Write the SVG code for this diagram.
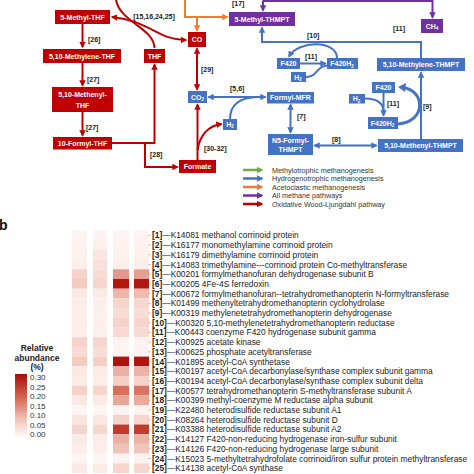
<svg xmlns="http://www.w3.org/2000/svg" width="474" height="474" viewBox="0 0 474 474">
<style>
.bx{font-family:"Liberation Sans",Arial,sans-serif;font-weight:bold;font-size:7px;fill:#fff;text-anchor:middle}
.st{font-family:"Liberation Sans",Arial,sans-serif;font-weight:bold;font-size:7px;fill:#1a1a1a}
.lg{font-family:"Liberation Sans",Arial,sans-serif;font-size:7.2px;fill:#333}
.hl{font-family:"Liberation Sans",Arial,sans-serif;font-size:8.4px;fill:#222}
.cb{font-family:"Liberation Sans",Arial,sans-serif;font-size:8px;fill:#333}
.red{fill:#c00000}.blue{fill:#4472c4}.pur{fill:#7030a0}
.lr{fill:none;stroke:#c00000;stroke-width:2}
.lb{fill:none;stroke:#4472c4;stroke-width:2}
.lo{fill:none;stroke:#ed7d31;stroke-width:2}
.lp{fill:none;stroke:#7030a0;stroke-width:2}
.lgr{fill:none;stroke:#70ad47;stroke-width:2.5}
</style>
<defs>
<marker id="mr" viewBox="0 0 10 10" refX="8" refY="5" markerWidth="6.5" markerHeight="6.5" markerUnits="userSpaceOnUse" orient="auto-start-reverse"><path d="M0,0 L10,5 L0,10 z" fill="#c00000"/></marker>
<marker id="mb" viewBox="0 0 10 10" refX="8" refY="5" markerWidth="6.5" markerHeight="6.5" markerUnits="userSpaceOnUse" orient="auto-start-reverse"><path d="M0,0 L10,5 L0,10 z" fill="#4472c4"/></marker>
<marker id="mo" viewBox="0 0 10 10" refX="8" refY="5" markerWidth="6.5" markerHeight="6.5" markerUnits="userSpaceOnUse" orient="auto-start-reverse"><path d="M0,0 L10,5 L0,10 z" fill="#ed7d31"/></marker>
<marker id="mp" viewBox="0 0 10 10" refX="8" refY="5" markerWidth="6.5" markerHeight="6.5" markerUnits="userSpaceOnUse" orient="auto-start-reverse"><path d="M0,0 L10,5 L0,10 z" fill="#7030a0"/></marker>
<marker id="mg" viewBox="0 0 10 10" refX="8" refY="5" markerWidth="6.5" markerHeight="6.5" markerUnits="userSpaceOnUse" orient="auto-start-reverse"><path d="M0,0 L10,5 L0,10 z" fill="#70ad47"/></marker>
<linearGradient id="cbar" x1="0" y1="0" x2="0" y2="1">
<stop offset="0" stop-color="#a50f0b"/><stop offset="0.35" stop-color="#d4604c"/><stop offset="0.7" stop-color="#f2c2b6"/><stop offset="1" stop-color="#ffffff"/>
</linearGradient>
</defs>

<!-- connectors -->
<g id="connectors">
<path class="lr" d="M116,0 C120,22 154,28 154.5,48"/>
<path class="lr" d="M112,17 C150,21 158,40 186,40" marker-start="url(#mr)" marker-end="url(#mr)"/>
<path class="lr" d="M82.5,24 V47" marker-end="url(#mr)"/>
<path class="lr" d="M82.5,63 V85.5" marker-end="url(#mr)"/>
<path class="lr" d="M82.5,112 V135.5" marker-end="url(#mr)"/>
<path class="lr" d="M112,143 H154.5 V64.5" marker-end="url(#mr)"/>
<path class="lr" d="M145,143 V167 H177.5" marker-end="url(#mr)"/>
<path class="lr" d="M197,48.5 V89.5" marker-start="url(#mr)" marker-end="url(#mr)"/>
<path class="lr" d="M197.5,160 V104.5" marker-end="url(#mr)"/>
<path class="lr" d="M197.5,150 C200,135 208,126 221.5,124" marker-end="url(#mr)"/>
<path class="lo" d="M185,0 V17 H227.5" marker-end="url(#mo)"/>
<path class="lo" d="M197,17 V30.5" marker-end="url(#mo)"/>
<path class="lp" d="M263,0.5 V10.5" marker-end="url(#mp)"/>
<path class="lp" d="M263,1 H432.5 V17.5" marker-end="url(#mp)"/>
<path class="lb" d="M208.5,97 H265.5" marker-start="url(#mb)" marker-end="url(#mb)"/>
<path class="lb" d="M230,119 C230,104 240,97.5 258,97"/>
<path class="lb" d="M290.5,104.5 V132.5" marker-start="url(#mb)" marker-end="url(#mb)"/>
<path class="lb" d="M314.5,145.5 H376.5" marker-start="url(#mb)" marker-end="url(#mb)"/>
<path class="lb" d="M421,139 V72.5" marker-end="url(#mb)"/>
<path class="lb" d="M421,58 V42 H262 V27.5" marker-end="url(#mb)"/>
<path class="lb" d="M337,58 C337,40 298,40 289,56.5" marker-end="url(#mb)"/>
<path class="lb" d="M300,63.5 H325.5" marker-end="url(#mb)"/>
<path class="lb" d="M306,77 C318,77 316,66 327,65.5"/>
<path class="lb" d="M383.5,93 V115.5" marker-end="url(#mb)"/>
<path class="lb" d="M365,98.5 C378,98.5 383.5,103 383.5,112"/>
<path fill="none" stroke="#4472c4" stroke-width="3" d="M398,124 C426,122 426,91 403,87.5"/>
<path d="M398,87 L406,83 L405,92 z" fill="#4472c4"/>
</g>

<!-- red nodes -->
<g id="n-5methylTHF"><rect class="red" x="55" y="10" width="55" height="14"/><text class="bx" x="82.5" y="19.5">5-Methyl-THF</text></g>
<g id="n-methyleneTHF"><rect class="red" x="43" y="49" width="78" height="14"/><text class="bx" x="82" y="58.5">5,10-Methylene-THF</text></g>
<g id="n-THF"><rect class="red" x="144" y="49" width="21" height="14"/><text class="bx" x="154.5" y="58.5">THF</text></g>
<g id="n-methenylTHF"><rect class="red" x="52" y="87" width="61" height="25"/><text class="bx" x="82.5" y="97">5,10-Methenyl-</text><text class="bx" x="82.5" y="107.5">THF</text></g>
<g id="n-formylTHF"><rect class="red" x="53" y="137" width="59" height="12.5"/><text class="bx" x="82.5" y="145.8">10-Formyl-THF</text></g>
<g id="n-formate"><rect class="red" x="179" y="160" width="37" height="13"/><text class="bx" x="197.5" y="169">Formate</text></g>
<g id="n-CO"><rect class="red" x="188" y="32" width="18" height="15"/><text class="bx" x="197" y="42">CO</text></g>

<!-- blue nodes -->
<g id="n-CO2"><rect class="blue" x="188" y="91" width="19" height="12"/><text class="bx" x="197.5" y="99.5">CO<tspan font-size="4.5" dy="1.5">2</tspan></text></g>
<g id="n-H2a"><rect class="blue" x="223" y="119" width="14" height="11"/><text class="bx" x="230" y="126.5">H<tspan font-size="4.5" dy="1.5">2</tspan></text></g>
<g id="n-formylMFR"><rect class="blue" x="267" y="92" width="47" height="11.5"/><text class="bx" x="290.5" y="100.3">Formyl-MFR</text></g>
<g id="n-N5formylTHMPT"><rect class="blue" x="268" y="134" width="45" height="21"/><text class="bx" x="290.5" y="142.5">N5-Formyl-</text><text class="bx" x="290.5" y="152">THMPT</text></g>
<g id="n-methenylTHMPT"><rect class="blue" x="378" y="139" width="85" height="13"/><text class="bx" x="420.5" y="148">5,10-Methenyl-THMPT</text></g>
<g id="n-methyleneTHMPT"><rect class="blue" x="377" y="58" width="88" height="13"/><text class="bx" x="421" y="67">5,10-Methylene-THMPT</text></g>
<g id="n-F420a"><rect class="blue" x="277" y="58" width="23" height="11"/><text class="bx" x="288.5" y="66">F420</text></g>
<g id="n-F420H2a"><rect class="blue" x="327" y="58" width="31" height="11"/><text class="bx" x="342" y="66">F420H<tspan font-size="4.5" dy="1.5">2</tspan></text></g>
<g id="n-H2b"><rect class="blue" x="291" y="72" width="15" height="10"/><text class="bx" x="298" y="79.5">H<tspan font-size="4.5" dy="1.5">2</tspan></text></g>
<g id="n-F420b"><rect class="blue" x="372" y="82" width="23" height="11"/><text class="bx" x="383.5" y="90">F420</text></g>
<g id="n-H2c"><rect class="blue" x="349" y="94" width="16" height="9.5"/><text class="bx" x="356.5" y="101">H<tspan font-size="4.5" dy="1.5">2</tspan></text></g>
<g id="n-F420H2b"><rect class="blue" x="368" y="117" width="30" height="12"/><text class="bx" x="382.5" y="125.5">F420H<tspan font-size="4.5" dy="1.5">2</tspan></text></g>

<!-- purple nodes -->
<g id="n-methylTHMPT"><rect class="pur" x="229" y="12" width="66" height="14"/><text class="bx" x="262" y="21.5">5-Methyl-THMPT</text></g>
<g id="n-CH4"><rect class="pur" x="421" y="19" width="22" height="14"/><text class="bx" x="432" y="28.5">CH<tspan font-size="4.5" dy="1.5">4</tspan></text></g>

<!-- step labels -->
<g id="step-labels">
<text class="st" x="154" y="19" text-anchor="middle">[15,16,24,25]</text>
<text class="st" x="88" y="41.5">[26]</text>
<text class="st" x="87" y="81.5">[27]</text>
<text class="st" x="86" y="129.5">[27]</text>
<text class="st" x="150" y="156.5">[28]</text>
<text class="st" x="204" y="150.5">[30-32]</text>
<text class="st" x="201" y="71.5">[29]</text>
<text class="st" x="230" y="91">[5,6]</text>
<text class="st" x="297" y="118.5">[7]</text>
<text class="st" x="332" y="141.5">[8]</text>
<text class="st" x="423" y="108.5">[9]</text>
<text class="st" x="307" y="37.5">[10]</text>
<text class="st" x="393" y="30.5">[11]</text>
<text class="st" x="305" y="59">[11]</text>
<text class="st" x="387" y="105.5">[11]</text>
<text class="st" x="232" y="5.5">[17]</text>
</g>

<!-- pathway legend -->
<g id="pathway-legend">
<path class="lgr" d="M243,170 H262" marker-end="url(#mg)"/>
<path class="lgr" style="stroke:#4472c4" d="M243,178.5 H262" marker-end="url(#mb)"/>
<path class="lgr" style="stroke:#ed7d31" d="M243,187 H262" marker-end="url(#mo)"/>
<path class="lgr" style="stroke:#7030a0" d="M243,195.5 H262" marker-end="url(#mp)"/>
<path class="lgr" style="stroke:#c00000" d="M243,204 H262" marker-end="url(#mr)"/>
<text class="lg" x="272" y="172.5">Methylotrophic methanogenesis</text>
<text class="lg" x="272" y="181">Hydrogenotrophic methanogenesis</text>
<text class="lg" x="272" y="189.5">Acetoclastic methanogenesis</text>
<text class="lg" x="272" y="198">All methane pathways</text>
<text class="lg" x="272" y="206.5">Oxidative Wood-Ljungdahl pathway</text>
</g>

<!-- panel b -->
<text x="-1" y="230" font-family="Liberation Sans, Arial, sans-serif" font-weight="bold" font-size="14" fill="#111">b</text>

<g id="heatmap">
<g transform="translate(0,230.5)">
<g id="col1">
<rect x="72" y="0" width="15" height="9.7" fill="#fdf3f1"/><rect x="72" y="9.7" width="15" height="9.7" fill="#fdf2f0"/><rect x="72" y="19.4" width="15" height="9.7" fill="#fdf1ee"/><rect x="72" y="29.1" width="15" height="9.7" fill="#fcefeb"/><rect x="72" y="38.8" width="15" height="9.7" fill="#f6d3ca"/><rect x="72" y="48.5" width="15" height="9.7" fill="#f3cbc1"/><rect x="72" y="58.2" width="15" height="9.7" fill="#fbe9e5"/><rect x="72" y="67.9" width="15" height="9.7" fill="#fcedea"/><rect x="72" y="77.6" width="15" height="9.7" fill="#fcefeb"/><rect x="72" y="87.3" width="15" height="9.7" fill="#fcedea"/><rect x="72" y="97" width="15" height="9.7" fill="#fcefeb"/><rect x="72" y="106.7" width="15" height="9.7" fill="#f5d3ca"/><rect x="72" y="116.4" width="15" height="9.7" fill="#f8dad2"/><rect x="72" y="126.1" width="15" height="9.7" fill="#f3cbc1"/><rect x="72" y="135.8" width="15" height="9.7" fill="#fbe8e3"/><rect x="72" y="145.5" width="15" height="9.7" fill="#fcece8"/><rect x="72" y="155.2" width="15" height="9.7" fill="#f5d1c8"/><rect x="72" y="164.9" width="15" height="9.7" fill="#fbe8e3"/><rect x="72" y="174.6" width="15" height="9.7" fill="#fdf5f3"/><rect x="72" y="184.3" width="15" height="9.7" fill="#fae6e1"/><rect x="72" y="194" width="15" height="9.7" fill="#f5d4cb"/><rect x="72" y="203.7" width="15" height="9.7" fill="#fbebe7"/><rect x="72" y="213.4" width="15" height="9.7" fill="#fcedea"/><rect x="72" y="223.1" width="15" height="9.7" fill="#fdf5f3"/><rect x="72" y="232.8" width="15" height="9.7" fill="#fbe9e5"/>
</g>
<g id="col2">
<rect x="93" y="0" width="14" height="9.7" fill="#fdf3f1"/><rect x="93" y="9.7" width="14" height="9.7" fill="#fcefec"/><rect x="93" y="19.4" width="14" height="9.7" fill="#fbe5e0"/><rect x="93" y="29.1" width="14" height="9.7" fill="#f9e0da"/><rect x="93" y="38.8" width="14" height="9.7" fill="#f8dbd3"/><rect x="93" y="48.5" width="14" height="9.7" fill="#f6d5cc"/><rect x="93" y="58.2" width="14" height="9.7" fill="#fbebe7"/><rect x="93" y="67.9" width="14" height="9.7" fill="#fcefeb"/><rect x="93" y="77.6" width="14" height="9.7" fill="#fcf0ed"/><rect x="93" y="87.3" width="14" height="9.7" fill="#fcefeb"/><rect x="93" y="97" width="14" height="9.7" fill="#fcf0ed"/><rect x="93" y="106.7" width="14" height="9.7" fill="#f6d5cc"/><rect x="93" y="116.4" width="14" height="9.7" fill="#f8ddd5"/><rect x="93" y="126.1" width="14" height="9.7" fill="#f4cfc5"/><rect x="93" y="135.8" width="14" height="9.7" fill="#fbeae6"/><rect x="93" y="145.5" width="14" height="9.7" fill="#fcedea"/><rect x="93" y="155.2" width="14" height="9.7" fill="#f6d5cc"/><rect x="93" y="164.9" width="14" height="9.7" fill="#fbeae6"/><rect x="93" y="174.6" width="14" height="9.7" fill="#fdf5f3"/><rect x="93" y="184.3" width="14" height="9.7" fill="#fbe8e3"/><rect x="93" y="194" width="14" height="9.7" fill="#f6d7ce"/><rect x="93" y="203.7" width="14" height="9.7" fill="#fbede9"/><rect x="93" y="213.4" width="14" height="9.7" fill="#fcefeb"/><rect x="93" y="223.1" width="14" height="9.7" fill="#fdf5f3"/><rect x="93" y="232.8" width="14" height="9.7" fill="#fbebe7"/>
</g>
<g id="col3">
<rect x="113" y="0" width="16" height="9.7" fill="#fdf3f1"/><rect x="113" y="9.7" width="16" height="9.7" fill="#fdf2f0"/><rect x="113" y="19.4" width="16" height="9.7" fill="#fdf1ee"/><rect x="113" y="29.1" width="16" height="9.7" fill="#fcefeb"/><rect x="113" y="38.8" width="16" height="9.7" fill="#e3988b"/><rect x="113" y="48.5" width="16" height="9.7" fill="#b3160f"/><rect x="113" y="58.2" width="16" height="9.7" fill="#eeb6ab"/><rect x="113" y="67.9" width="16" height="9.7" fill="#f5d4cb"/><rect x="113" y="77.6" width="16" height="9.7" fill="#f8ddd5"/><rect x="113" y="87.3" width="16" height="9.7" fill="#f6d3ca"/><rect x="113" y="97" width="16" height="9.7" fill="#f7d9d1"/><rect x="113" y="106.7" width="16" height="9.7" fill="#fdf4f2"/><rect x="113" y="116.4" width="16" height="9.7" fill="#fdf3f1"/><rect x="113" y="126.1" width="16" height="9.7" fill="#ad1410"/><rect x="113" y="135.8" width="16" height="9.7" fill="#eab0a4"/><rect x="113" y="145.5" width="16" height="9.7" fill="#f4cfc5"/><rect x="113" y="155.2" width="16" height="9.7" fill="#d66f5c"/><rect x="113" y="164.9" width="16" height="9.7" fill="#e9a597"/><rect x="113" y="174.6" width="16" height="9.7" fill="#fdf4f2"/><rect x="113" y="184.3" width="16" height="9.7" fill="#f5d2c9"/><rect x="113" y="194" width="16" height="9.7" fill="#c0392b"/><rect x="113" y="203.7" width="16" height="9.7" fill="#eab0a3"/><rect x="113" y="213.4" width="16" height="9.7" fill="#f1c2b7"/><rect x="113" y="223.1" width="16" height="9.7" fill="#fdf2ef"/><rect x="113" y="232.8" width="16" height="9.7" fill="#f6d5cc"/>
</g>
<g id="col4">
<rect x="134" y="0" width="15" height="9.7" fill="#fdf3f1"/><rect x="134" y="9.7" width="15" height="9.7" fill="#fdf2f0"/><rect x="134" y="19.4" width="15" height="9.7" fill="#fdf1ee"/><rect x="134" y="29.1" width="15" height="9.7" fill="#fcefeb"/><rect x="134" y="38.8" width="15" height="9.7" fill="#e69e90"/><rect x="134" y="48.5" width="15" height="9.7" fill="#b11610"/><rect x="134" y="58.2" width="15" height="9.7" fill="#efbaaf"/><rect x="134" y="67.9" width="15" height="9.7" fill="#f6d6cd"/><rect x="134" y="77.6" width="15" height="9.7" fill="#f8ddd6"/><rect x="134" y="87.3" width="15" height="9.7" fill="#f6d5cc"/><rect x="134" y="97" width="15" height="9.7" fill="#f7dad2"/><rect x="134" y="106.7" width="15" height="9.7" fill="#fdf4f2"/><rect x="134" y="116.4" width="15" height="9.7" fill="#fdf3f1"/><rect x="134" y="126.1" width="15" height="9.7" fill="#b0150f"/><rect x="134" y="135.8" width="15" height="9.7" fill="#ebb3a7"/><rect x="134" y="145.5" width="15" height="9.7" fill="#f5d3ca"/><rect x="134" y="155.2" width="15" height="9.7" fill="#d87463"/><rect x="134" y="164.9" width="15" height="9.7" fill="#eaa99b"/><rect x="134" y="174.6" width="15" height="9.7" fill="#fdf4f2"/><rect x="134" y="184.3" width="15" height="9.7" fill="#f6d5cc"/><rect x="134" y="194" width="15" height="9.7" fill="#c33d2e"/><rect x="134" y="203.7" width="15" height="9.7" fill="#ebb3a6"/><rect x="134" y="213.4" width="15" height="9.7" fill="#f2c5ba"/><rect x="134" y="223.1" width="15" height="9.7" fill="#fdf2ef"/><rect x="134" y="232.8" width="15" height="9.7" fill="#f6d7ce"/>
</g>
</g>
</g>

<g id="heatmap-labels">
<g stroke="#888" stroke-width="0.6">
<path d="M148.5,235.4h2M148.5,245.1h2M148.5,254.8h2M148.5,264.5h2M148.5,274.2h2M148.5,283.9h2M148.5,293.6h2M148.5,303.3h2M148.5,313h2M148.5,322.7h2M148.5,332.4h2M148.5,342.1h2M148.5,351.8h2M148.5,361.5h2M148.5,371.2h2M148.5,380.9h2M148.5,390.6h2M148.5,400.3h2M148.5,410h2M148.5,419.7h2M148.5,429.4h2M148.5,439.1h2M148.5,448.8h2M148.5,458.5h2M148.5,468.2h2"/>
</g>
<text class="hl" x="152" y="238.4"><tspan font-weight="bold">[1]</tspan>—K14081 methanol corrinoid protein</text>
<text class="hl" x="152" y="248.1"><tspan font-weight="bold">[2]</tspan>—K16177 monomethylamine corrinoid protein</text>
<text class="hl" x="152" y="257.8"><tspan font-weight="bold">[3]</tspan>—K16179 dimethylamine corrinoid protein</text>
<text class="hl" x="152" y="267.5"><tspan font-weight="bold">[4]</tspan>—K14083 trimethylamine---corrinoid protein Co-methyltransferase</text>
<text class="hl" x="152" y="277.2"><tspan font-weight="bold">[5]</tspan>—K00201 formylmethanofuran dehydrogenase subunit B</text>
<text class="hl" x="152" y="286.9"><tspan font-weight="bold">[6]</tspan>—K00205 4Fe-4S ferredoxin</text>
<text class="hl" x="152" y="296.6"><tspan font-weight="bold">[7]</tspan>—K00672 formylmethanofuran--tetrahydromethanopterin N-formyltransferase</text>
<text class="hl" x="152" y="306.3"><tspan font-weight="bold">[8]</tspan>—K01499 methenyltetrahydromethanopterin cyclohydrolase</text>
<text class="hl" x="152" y="316"><tspan font-weight="bold">[9]</tspan>—K00319 methylenetetrahydromethanopterin dehydrogenase</text>
<text class="hl" x="152" y="325.7"><tspan font-weight="bold">[10]</tspan>—K00320 5,10-methylenetetrahydromethanopterin reductase</text>
<text class="hl" x="152" y="335.4"><tspan font-weight="bold">[11]</tspan>—K00443 coenzyme F420 hydrogenase subunit gamma</text>
<text class="hl" x="152" y="345.1"><tspan font-weight="bold">[12]</tspan>—K00925 acetate kinase</text>
<text class="hl" x="152" y="354.8"><tspan font-weight="bold">[13]</tspan>—K00625 phosphate acetyltransferase</text>
<text class="hl" x="152" y="364.5"><tspan font-weight="bold">[14]</tspan>—K01895 acetyl-CoA synthetase</text>
<text class="hl" x="152" y="374.2"><tspan font-weight="bold">[15]</tspan>—K00197 acetyl-CoA decarbonylase/synthase complex subunit gamma</text>
<text class="hl" x="152" y="383.9"><tspan font-weight="bold">[16]</tspan>—K00194 acetyl-CoA decarbonylase/synthase complex subunit delta</text>
<text class="hl" x="152" y="393.6"><tspan font-weight="bold">[17]</tspan>—K00577 tetrahydromethanopterin S-methyltransferase subunit A</text>
<text class="hl" x="152" y="403.3"><tspan font-weight="bold">[18]</tspan>—K00399 methyl-coenzyme M reductase alpha subunit</text>
<text class="hl" x="152" y="413"><tspan font-weight="bold">[19]</tspan>—K22480 heterodisulfide reductase subunit A1</text>
<text class="hl" x="152" y="422.7"><tspan font-weight="bold">[20]</tspan>—K08264 heterodisulfide reductase subunit D</text>
<text class="hl" x="152" y="432.4"><tspan font-weight="bold">[21]</tspan>—K03388 heterodisulfide reductase subunit A2</text>
<text class="hl" x="152" y="442.1"><tspan font-weight="bold">[22]</tspan>—K14127 F420-non-reducing hydrogenase iron-sulfur subunit</text>
<text class="hl" x="152" y="451.8"><tspan font-weight="bold">[23]</tspan>—K14126 F420-non-reducing hydrogenase large subunit</text>
<text class="hl" x="152" y="461.5"><tspan font-weight="bold">[24]</tspan>—K15023 5-methyltetrahydrofolate corrinoid/iron sulfur protein methyltransferase</text>
<text class="hl" x="152" y="471.2"><tspan font-weight="bold">[25]</tspan>—K14138 acetyl-CoA synthase</text>
</g>

<g id="colorbar-legend">
<text x="37" y="351" text-anchor="middle" font-family="Liberation Sans, Arial, sans-serif" font-weight="bold" font-size="8.5" fill="#222">Relative</text>
<text x="37" y="360.5" text-anchor="middle" font-family="Liberation Sans, Arial, sans-serif" font-weight="bold" font-size="8.5" fill="#222">abundance</text>
<text x="37" y="370" text-anchor="middle" font-family="Liberation Sans, Arial, sans-serif" font-weight="bold" font-size="8.5" fill="#222">(%)</text>
<rect x="15" y="374" width="12" height="64" fill="url(#cbar)"/>
<text class="cb" x="30" y="380">0.30</text>
<text class="cb" x="30" y="389.5">0.25</text>
<text class="cb" x="30" y="399">0.20</text>
<text class="cb" x="30" y="408.5">0.15</text>
<text class="cb" x="30" y="418">0.10</text>
<text class="cb" x="30" y="427.5">0.05</text>
<text class="cb" x="30" y="437">0.00</text>
</g>
</svg>
